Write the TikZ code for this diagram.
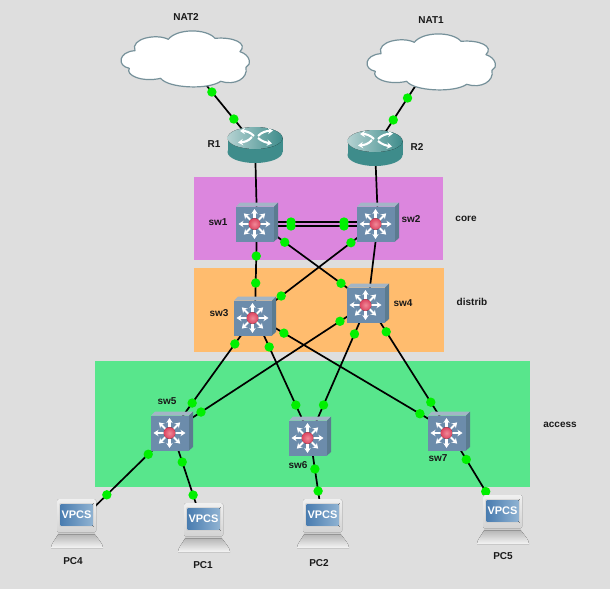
\documentclass[tikz,border=0pt]{standalone}
\usepackage{fontspec}
\setmainfont{Liberation Sans}
\usetikzlibrary{arrows.meta}
\definecolor{bgc}{HTML}{DEDEDE}
\definecolor{corec}{HTML}{DC86DE}
\definecolor{distc}{HTML}{FFBC6E}
\definecolor{accc}{HTML}{58E68C}
\definecolor{dotc}{HTML}{00F000}
\definecolor{cloudc}{HTML}{76919A}
\definecolor{teal1}{HTML}{3E8C8B}
\definecolor{teal2}{HTML}{B5D2D2}
\definecolor{swf}{HTML}{6C8CAB}
\definecolor{swt}{HTML}{A3B5C6}
\definecolor{sws}{HTML}{5B7B90}
\definecolor{scra}{HTML}{4A7DB0}
\definecolor{scrb}{HTML}{8FB2D2}
\definecolor{ballb}{HTML}{DC4460}
\definecolor{balla}{HTML}{F08A98}
\tikzset{
  lab/.style={font=\bfseries\fontsize{10}{12}\selectfont,inner sep=0pt,text=black!90,text height=7.2pt,text depth=0pt},
  swbox/.style={inner sep=0pt,minimum width=42pt,minimum height=39pt},
  rtbox/.style={inner sep=0pt,minimum width=56pt,minimum height=36pt},
  pcbox/.style={inner sep=0pt,minimum width=52pt,minimum height=50pt},
  cloudbox/.style={inner sep=0pt,minimum width=130pt,minimum height=56pt},
  wire/.style={black,line width=1.7pt},
  gdot/.style={circle,fill=dotc,inner sep=0pt,minimum size=9.4pt},
  wa/.style={white,line width=2.1pt,-{Stealth[length=5pt,width=6.4pt]}},
  swicon/.pic={
    \fill[swt] (-21,-15.5)--(-17,-19.5)--(21,-19.5)--(17,-15.5)--cycle;
    \fill[sws] (17,-15.5)--(21,-19.5)--(21,16)--(17,19.5)--cycle;
    \fill[swf] (-21,-15.5) rectangle (17,19.5);
    \foreach \a/\r in {0/16,45/15,90/15,135/15,180/16,225/15,270/15,315/15}
      \draw[wa] (-2.5,2)++(\a:5) -- ++(\a:\r-5);
    \fill[inner color=balla,outer color=ballb] (-2.5,2) circle (5.8);
  },
  rticon/.pic={
    \fill[teal1] (0,7) ellipse[x radius=27.5,y radius=11];
    \fill[teal1] (-27.5,-7) rectangle (27.5,7);
    \fill[left color=teal2,right color=teal1] (0,-7) ellipse[x radius=27.5,y radius=11];
    \draw[wa] (-1,-9) .. controls (-5,-13) and (-9,-14) .. (-15,-14);
    \draw[wa] (3,-9) .. controls (7,-13) and (11,-14) .. (18,-14.5);
    \draw[wa] (-3,-8) .. controls (-7,-3.5) and (-11,-3) .. (-17,-2.5);
    \draw[wa] (3,-7) .. controls (7,-3.5) and (11,-2.5) .. (17,-1.5);
  },
  pcicon/.pic={
    \fill[black!20] (-19,8) rectangle (18,12);
    \fill[top color=black!28,bottom color=black!4]
      (-19,10.5) -- (18,10.5) .. controls (22,16) and (26,20) .. (26,24)
      -- (-26,24) .. controls (-26,20) and (-22,16) .. (-19,10.5) -- cycle;
    \fill[rounded corners=1.5pt,top color=black!6,bottom color=black!17] (-20,-25) rectangle (19,8);
    \fill[top color=white!85!black,bottom color=black!18] (-17.5,-21) rectangle (16.5,2.5);
    \fill[left color=scra,right color=scrb] (-16.5,-20) rectangle (15.5,1.5);
    \node[inner sep=0pt,text=white,font=\bfseries\fontsize{11}{12}\selectfont] at (-0.5,-9) {VPCS};
  },
}
\newcommand{\cloudshape}[1]{%
  \begin{scope}[shift={#1},x=.3333pt,y=-.3333pt]
    \draw[cloudc,fill=white,line width=1.2pt,line join=round]
      (205,88) .. controls (230,55) and (320,55) .. (345,85)
      .. controls (400,80) and (445,100) .. (420,125)
      .. controls (452,135) and (455,165) .. (438,172)
      .. controls (445,205) and (405,228) .. (362,214)
      .. controls (325,240) and (205,235) .. (182,205)
      .. controls (125,218) and (75,195) .. (88,175)
      .. controls (50,168) and (55,125) .. (105,122)
      .. controls (90,85) and (170,70) .. (205,88) -- cycle;
  \end{scope}}
\newcommand{\linkdots}[4]{%
  \draw[wire] (#1.center) -- node[gdot,pos=#3]{} node[gdot,pos=#4]{} (#2.center);}
\begin{document}
\begin{tikzpicture}[x=1pt,y=-1pt]
\fill[bgc] (0,0) rectangle (610,589);
\useasboundingbox (0,0) rectangle (610,589);
% zones
\fill[corec] (194,177) rectangle (443,260);
\fill[distc] (194,268) rectangle (444,352);
\fill[accc] (95,361) rectangle (530,487);
% device anchors
\node[cloudbox] (NAT2) at (185,59) {};
\node[cloudbox] (NAT1) at (431,62) {};
\node[rtbox] (R1) at (255,145) {};
\node[rtbox] (R2) at (375,148) {};
\node[swbox] (sw1) at (257,222) {};
\node[swbox] (sw2) at (378,222) {};
\node[swbox] (sw3) at (255,316) {};
\node[swbox] (sw4) at (368,303) {};
\node[swbox] (sw5) at (172,431) {};
\node[swbox] (sw6) at (310,436) {};
\node[swbox] (sw7) at (449,431) {};
\node[pcbox] (PC4) at (77,524) {};
\node[pcbox] (PC1) at (204,528) {};
\node[pcbox] (PC2) at (323,524) {};
\node[pcbox] (PC5) at (503,520) {};
% connectors
\linkdots{NAT2}{R1}{.384}{.698}
\linkdots{NAT1}{R2}{.419}{.674}
\draw[wire] (R1.center) -- (sw1.center);
\draw[wire] (R2.center) -- (sw2.center);
\draw[wire] (sw2.center) -- (sw4.center);
\draw[wire] (sw1.center) -- node[gdot,pos=.281]{} node[gdot,pos=.719]{} (sw2.center);
\draw[wire] ([yshift=-4pt]sw1.center) -- node[gdot,pos=.281]{} node[gdot,pos=.719]{} ([yshift=-4pt]sw2.center);
\linkdots{sw1}{sw3}{.362}{.649}
\linkdots{sw1}{sw4}{.25}{.757}
\linkdots{sw2}{sw3}{.22}{.787}
\linkdots{sw3}{sw5}{.243}{.757}
\linkdots{sw3}{sw6}{.258}{.742}
\linkdots{sw3}{sw7}{.149}{.85}
\linkdots{sw4}{sw5}{.143}{.852}
\linkdots{sw4}{sw6}{.233}{.767}
\linkdots{sw4}{sw7}{.225}{.775}
\linkdots{sw5}{PC4}{.25}{.686}
\linkdots{sw5}{PC1}{.32}{.66}
\linkdots{sw6}{PC2}{.375}{.625}
\linkdots{sw7}{PC5}{.32}{.68}
% device art
\cloudshape{(100,10)}
\cloudshape{(346,13)}
\pic at (R1) {rticon};
\pic at (R2) {rticon};
\foreach \n in {sw1,sw2,sw3,sw4,sw5,sw6,sw7} \pic at (\n) {swicon};
\foreach \n in {PC4,PC1,PC2,PC5} \pic at (\n) {pcicon};
% labels
\node[lab] (lNAT2) at (186,17) {NAT2};
\node[lab] (lNAT1) at (431,20) {NAT1};
\node[lab] (lR1) at (214,144) {R1};
\node[lab] (lR2) at (417,147) {R2};
\node[lab] (lsw1) at (218,222) {sw1};
\node[lab] (lsw2) at (411,219) {sw2};
\node[lab] (lsw3) at (219,313) {sw3};
\node[lab] (lsw4) at (403,303) {sw4};
\node[lab] (lsw5) at (167,401) {sw5};
\node[lab] (lsw6) at (298,465) {sw6};
\node[lab] (lsw7) at (438,458) {sw7};
\node[lab] (lPC4) at (73,561) {PC4};
\node[lab] (lPC1) at (203,565) {PC1};
\node[lab] (lPC2) at (319,563) {PC2};
\node[lab] (lPC5) at (503,556) {PC5};
\node[lab] (lcore) at (466,218) {core};
\node[lab] (ldist) at (472,302) {distrib};
\node[lab] (lacc) at (560,424) {access};
\end{tikzpicture}
\end{document}
